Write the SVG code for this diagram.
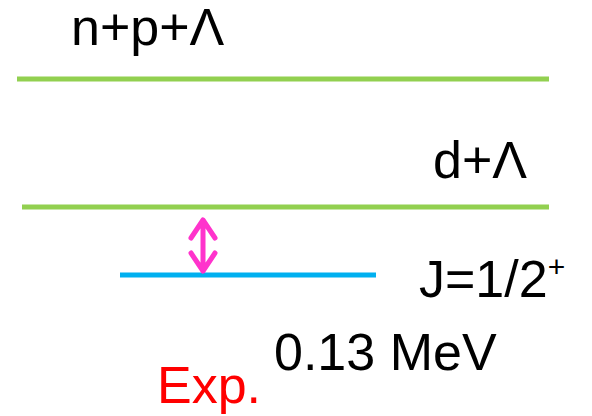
<svg xmlns="http://www.w3.org/2000/svg" width="592" height="416" viewBox="0 0 592 416">
<style>
.t{font-family:"Liberation Sans",Arial,sans-serif;font-size:52px;fill:#000}
.lvl{stroke-width:5;fill:none}
.g{stroke:#92D050}
.b{stroke:#00B0F0}
.arr{stroke:#FF33CC;stroke-width:5;fill:none;stroke-linecap:round;stroke-linejoin:round}
</style>
<rect width="592" height="416" fill="#fff"/>
<g id="level-npL">
<line class="lvl g" x1="17" y1="79" x2="549" y2="79"/>
<text class="t" x="71" y="45">n+p+Λ</text>
</g>
<g id="level-dL">
<line class="lvl g" x1="22" y1="207" x2="549" y2="207"/>
<text class="t" x="433" y="178">d+Λ</text>
</g>
<g id="level-J">
<line class="lvl b" x1="120" y1="275" x2="376" y2="275"/>
<text class="t" x="419" y="297">J=1/2<tspan font-size="30" dy="-20">+</tspan></text>
</g>
<g id="connectors">
<path class="arr" d="M203 220 V271 M191 238 L203 220 L215 238 M191 253 L203 271 L215 253"/>
</g>
<g id="labels">
<text class="t" x="274" y="370">0.13 MeV</text>
<text class="t" x="157" y="403" style="fill:#FF0000">Exp.</text>
</g>
</svg>
